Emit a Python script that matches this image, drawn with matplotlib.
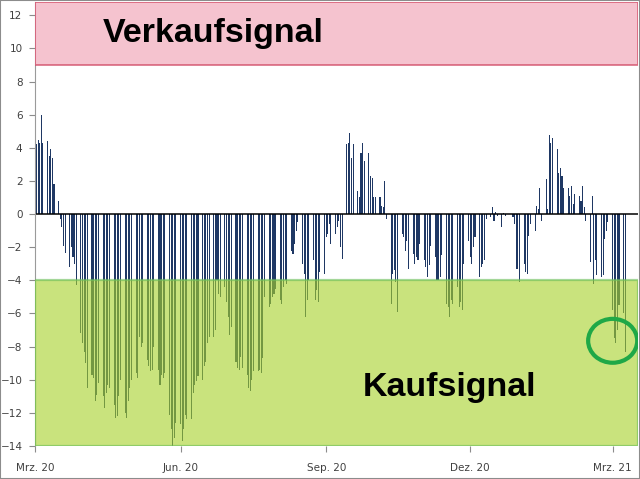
import matplotlib.pyplot as plt
import matplotlib.dates as mdates
from matplotlib.patches import Rectangle, Ellipse
import pandas as pd

# Indikatorwerte je Handelstag, eine Zeile pro Woche (ab 02.03.2020)
werte = [
    4.2, 4.5, 4.3, 6.0, 4.3,
    4.4, 3.5, 3.9, 3.4, 1.8,
    0.8, -0.3, -0.8, -1.9, -2.35,
    -3.2, -2.0, -2.6, -3.0, -4.3,
    -7.2, -7.8, -8.3, -9.0, -10.5,
    -9.7, -9.9, -11.3, -10.9, -10.2,
    -11.0, -11.7, -10.8, -10.3, -10.5,
    -11.5, -12.3, -12.2, -11.0, -10.0,
    -12.0, -12.3, -11.3, -10.5, -10.0,
    -9.6, -9.9, -7.4, -8.0, -7.8,
    -8.8, -9.2, -9.5, -9.4, -8.0,
    -9.4, -10.3, -9.7, -9.9, -9.6,
    -12.1, -13.0, -14.0, -13.5, -12.6,
    -12.7, -13.7, -13.0, -12.1, -12.4,
    -12.4, -10.8, -10.3, -10.1, -9.8,
    -10.0, -9.2, -8.9, -7.8, -7.4,
    -7.4, -7.0, -4.0, -4.8, -5.0,
    -4.4, -5.3, -6.2, -7.3, -6.8,
    -8.9, -9.3, -9.4, -8.6, -9.3,
    -9.7, -10.5, -10.7, -10.0, -9.5,
    -9.5, -9.4, -9.6, -8.7, -5.0,
    -5.6, -5.4, -5.0, -4.8, -4.5,
    -5.2, -5.4, -4.4, -4.0, -4.2,
    -2.2, -2.4, -1.8, -1.0, -0.5,
    -3.0, -3.6, -6.2, -5.2, -4.0,
    -2.8, -5.2, -4.6, -5.3, -3.5,
    -3.6, -1.4, -1.2, -0.6, -1.8,
    -1.2, -0.8, -0.4, -2.0, -2.7,
    4.2, 4.3, 4.9, 3.4, 4.2,
    1.4, 1.0, 3.7, 4.3, 3.2,
    3.7, 2.3, 2.2, 1.0, 1.0,
    1.0, 0.5, 0.4, 2.0, -0.3,
    -5.4, -3.6, -3.4, -4.1, -5.9,
    -1.2, -1.4, -2.2, -1.6, -3.3,
    -2.4, -3.0, -2.6, -2.8, -1.8,
    -2.8, -3.2, -3.8, -3.1, -1.9,
    -2.6, -4.0, -4.0, -3.8, -2.5,
    -5.4, -5.6, -6.2, -5.2, -5.4,
    -4.4, -5.6, -5.3, -5.8, -3.0,
    -1.6, -2.6, -3.0, -2.0, -1.4,
    -3.8, -3.2, -3.0, -2.8, -0.3,
    -0.2, 0.4, -0.4, 0.1, -0.1,
    -0.8, 0.05, -0.1, 0.0, 0.0,
    -0.2, -0.6, -3.3, -3.3, -4.1,
    -3.0, -3.5, -3.6, -1.3, -0.6,
    -1.0, 0.5, 0.3, 1.6, -0.4,
    2.1, 0.3, 4.8, 4.3, 4.6,
    3.9, 2.5, 2.8, 2.3, 1.6,
    1.6, 1.1, 1.7, 0.6, 1.2,
    1.1, 0.8, 1.7, 0.4, -0.4,
    -2.9, 1.1, -4.2, -2.8, -3.7,
    -3.8, -3.7, -1.5, -1.0, -0.5,
    -5.8, -7.5, -7.8, -7.0, -5.5,
    -6.0, -8.35,
]
tage = pd.bdate_range('2020-03-02', periods=len(werte))

tick_daten = pd.to_datetime(['2020-03-01', '2020-06-01', '2020-09-01',
                             '2020-12-01', '2021-03-01'])
tick_texte = ['Mrz. 20', 'Jun. 20', 'Sep. 20', 'Dez. 20', 'Mrz. 21']

verkauf_grenze = 9
kauf_grenze = -4
y_min, y_max = -14, 12.8

fig = plt.figure(figsize=(6.4, 4.79), dpi=100)
ax = fig.add_axes([35 / 640, 33 / 479, 603 / 640, 444 / 479])

ax.bar(tage, werte, width=0.68, color='#1F3864', linewidth=0, zorder=2)
ax.axhline(0, color='black', lw=1.1, zorder=2)

# Signalzonen
ax.axhspan(verkauf_grenze, y_max, facecolor='#F2AFC0', alpha=0.75,
           edgecolor='#D14A66', lw=1.3, zorder=3)
ax.axhspan(y_min, kauf_grenze, facecolor='#A8D22E', alpha=0.62,
           edgecolor='#6CBF5C', lw=1.6, zorder=3)

ax.text(0.296, 0.928, 'Verkaufsignal', transform=ax.transAxes,
        ha='center', va='center', fontsize=24.5, fontweight='bold',
        family='Liberation Sans', color='black', zorder=5)
ax.text(0.688, 0.132, 'Kaufsignal', transform=ax.transAxes,
        ha='center', va='center', fontsize=24.5, fontweight='bold',
        family='Liberation Sans', color='black', zorder=5)

# Markierung der letzten Kaufsignale
kreis = Ellipse((mdates.date2num(tage[-7]), -7.65), width=31, height=2.65,
                fill=False, edgecolor='#1FA847', lw=3, zorder=6)
ax.add_patch(kreis)

ax.set_xlim(pd.Timestamp('2020-03-01'), pd.Timestamp('2021-03-17'))
ax.set_ylim(y_min, y_max)
ax.set_xticks(tick_daten)
ax.set_xticklabels(tick_texte)
ax.set_yticks(range(-14, 13, 2))

ax.tick_params(axis='both', labelsize=7.5, labelcolor='#404040',
               color='#8C8C8C', length=4, width=0.8)
ax.tick_params(axis='x', pad=8)
ax.tick_params(axis='y', pad=5)

for s in ['top', 'right', 'bottom']:
    ax.spines[s].set_visible(False)
ax.spines['left'].set_color('#9A9A9A')

fig.patches.append(Rectangle((0, 0), 1, 1, transform=fig.transFigure,
                             fill=False, edgecolor='#8C8C8C', lw=1.5))

fig.savefig('out.png', dpi=100)
